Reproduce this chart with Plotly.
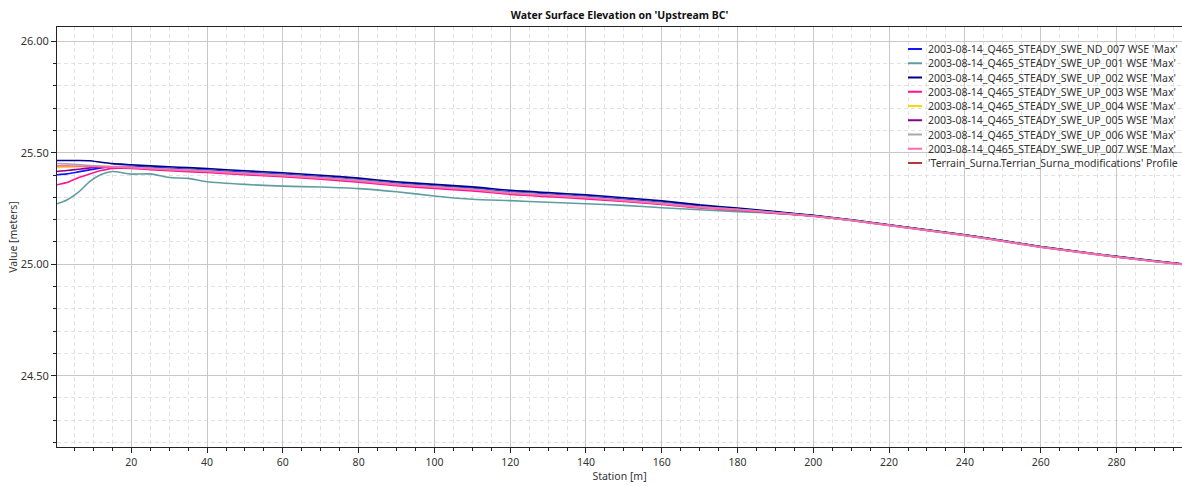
import plotly.graph_objects as go

# Station [m]
stations = [0.4, 3, 6, 9, 12, 15, 20, 25, 30, 35, 40, 50, 60, 70, 80, 90, 100, 110, 120, 130,
            140, 150, 160, 170, 180, 190, 200, 210, 220, 230, 240, 250, 260, 270, 280, 290, 297.3]

wse_nd_007 = [25.401, 25.405, 25.414, 25.423, 25.432, 25.437, 25.439, 25.434, 25.430, 25.426, 25.422,
              25.412, 25.403, 25.392, 25.379, 25.363, 25.351, 25.340, 25.324, 25.314, 25.304, 25.291,
              25.277, 25.260, 25.248, 25.234, 25.218, 25.198, 25.176, 25.153, 25.131, 25.105, 25.078,
              25.056, 25.034, 25.014, 25.001]
wse_up_001 = [25.271, 25.288, 25.322, 25.370, 25.402, 25.416, 25.404, 25.405, 25.389, 25.385, 25.370,
              25.358, 25.350, 25.346, 25.339, 25.325, 25.306, 25.291, 25.285, 25.278, 25.271, 25.264,
              25.253, 25.244, 25.236, 25.228, 25.217, 25.197, 25.176, 25.153, 25.131, 25.105, 25.078,
              25.056, 25.034, 25.014, 25.001]
wse_up_002 = [25.465, 25.465, 25.465, 25.464, 25.457, 25.451, 25.446, 25.441, 25.437, 25.433, 25.429,
              25.419, 25.410, 25.399, 25.386, 25.370, 25.358, 25.347, 25.331, 25.321, 25.311, 25.298,
              25.284, 25.266, 25.252, 25.236, 25.219, 25.199, 25.177, 25.154, 25.132, 25.106, 25.079,
              25.057, 25.035, 25.015, 25.002]
wse_up_003 = [25.356, 25.366, 25.388, 25.405, 25.420, 25.430, 25.430, 25.424, 25.419, 25.415, 25.411,
              25.401, 25.392, 25.381, 25.368, 25.352, 25.340, 25.329, 25.313, 25.303, 25.293, 25.281,
              25.268, 25.252, 25.242, 25.229, 25.215, 25.196, 25.174, 25.151, 25.129, 25.103, 25.076,
              25.054, 25.032, 25.012, 24.999]
wse_up_004 = [25.434, 25.435, 25.437, 25.438, 25.438, 25.437, 25.434, 25.429, 25.425, 25.421, 25.417,
              25.407, 25.398, 25.387, 25.374, 25.358, 25.346, 25.335, 25.319, 25.309, 25.299, 25.286,
              25.272, 25.256, 25.245, 25.231, 25.216, 25.197, 25.175, 25.152, 25.130, 25.104, 25.077,
              25.055, 25.033, 25.013, 25.000]
wse_up_005 = [25.416, 25.420, 25.426, 25.432, 25.436, 25.437, 25.434, 25.429, 25.425, 25.421, 25.417,
              25.407, 25.398, 25.387, 25.374, 25.358, 25.346, 25.335, 25.319, 25.309, 25.299, 25.286,
              25.272, 25.256, 25.245, 25.231, 25.216, 25.197, 25.175, 25.152, 25.130, 25.104, 25.077,
              25.055, 25.033, 25.013, 25.000]
wse_up_006 = [25.452, 25.450, 25.447, 25.443, 25.440, 25.438, 25.436, 25.431, 25.427, 25.423, 25.419,
              25.409, 25.400, 25.389, 25.376, 25.360, 25.348, 25.337, 25.321, 25.311, 25.301, 25.288,
              25.274, 25.257, 25.246, 25.232, 25.216, 25.197, 25.175, 25.152, 25.130, 25.104, 25.077,
              25.055, 25.033, 25.013, 25.000]
wse_up_007 = [25.441, 25.441, 25.440, 25.439, 25.437, 25.436, 25.433, 25.428, 25.424, 25.420, 25.416,
              25.406, 25.397, 25.386, 25.373, 25.357, 25.345, 25.334, 25.318, 25.308, 25.298, 25.285,
              25.271, 25.255, 25.244, 25.230, 25.215, 25.196, 25.174, 25.151, 25.129, 25.103, 25.076,
              25.054, 25.032, 25.012, 24.999]

series_names = [
    "2003-08-14_Q465_STEADY_SWE_ND_007 WSE 'Max'",
    "2003-08-14_Q465_STEADY_SWE_UP_001 WSE 'Max'",
    "2003-08-14_Q465_STEADY_SWE_UP_002 WSE 'Max'",
    "2003-08-14_Q465_STEADY_SWE_UP_003 WSE 'Max'",
    "2003-08-14_Q465_STEADY_SWE_UP_004 WSE 'Max'",
    "2003-08-14_Q465_STEADY_SWE_UP_005 WSE 'Max'",
    "2003-08-14_Q465_STEADY_SWE_UP_006 WSE 'Max'",
    "2003-08-14_Q465_STEADY_SWE_UP_007 WSE 'Max'",
]
series_values = [wse_nd_007, wse_up_001, wse_up_002, wse_up_003,
                 wse_up_004, wse_up_005, wse_up_006, wse_up_007]
series_colors = ["#1414ff", "#5f9ea0", "#00008b", "#ff1493",
                 "#ffd700", "#8b008b", "#a9a9a9", "#ff69b4"]

terrain_name = "'Terrain_Surna.Terrian_Surna_modifications' Profile"
terrain_color = "#b03a3a"

x_tickvals = [20, 40, 60, 80, 100, 120, 140, 160, 180, 200, 220, 240, 260, 280]
y_tickvals = [24.5, 25.0, 25.5, 26.0]

FONT = "Segoe UI, Noto Sans, Open Sans, sans-serif"
W, H = 1182, 486
ML, MR, MT, MB = 57, 0, 27, 39
PW, PH = W - ML - MR, H - MT - MB


def px_to_paper(px, py):
    return (px - ML) / PW, 1 - (py - MT) / PH


fig = go.Figure()
for name, vals, col in zip(series_names, series_values, series_colors):
    fig.add_trace(go.Scatter(x=stations, y=vals, name=name, mode="lines", showlegend=False,
                             line=dict(color=col, width=1.6, shape="spline", smoothing=0.6)))
fig.add_trace(go.Scatter(x=[None], y=[None], name=terrain_name, mode="lines", showlegend=False,
                         line=dict(color=terrain_color, width=1.6)))

# compact legend (matches the original's tight row spacing)
legend_names = series_names + [terrain_name]
legend_colors = series_colors + [terrain_color]
shapes, annotations = [], []
for i, (nm, col) in enumerate(zip(legend_names, legend_colors)):
    row_y = 49 + 14.25 * i
    x0, y0 = px_to_paper(908, row_y)
    x1, _ = px_to_paper(922, row_y)
    xt, _ = px_to_paper(926, row_y)
    shapes.append(dict(type="line", xref="paper", yref="paper", x0=x0, x1=x1, y0=y0, y1=y0,
                       line=dict(color=col, width=2)))
    annotations.append(dict(text=nm, xref="paper", yref="paper", x=xt, y=y0,
                            xanchor="left", yanchor="middle", showarrow=False,
                            font=dict(family=FONT, size=10.5, color="#333333")))

fig.update_layout(
    width=W, height=H,
    margin=dict(l=ML, r=MR, t=MT, b=MB),
    paper_bgcolor="white", plot_bgcolor="white",
    font=dict(family=FONT, size=10.5, color="#333333"),
    title=dict(text="<b>Water Surface Elevation on 'Upstream BC'</b>",
               x=(ML + W) / 2 / W, xanchor="center",
               y=1 - 15 / H, yanchor="middle", yref="container",
               font=dict(family=FONT, size=10.5, color="#111111")),
    showlegend=False,
    shapes=shapes,
    annotations=annotations,
)

fig.update_xaxes(
    range=[0.4, 297.3], tickvals=x_tickvals, ticktext=[str(v) for v in x_tickvals],
    showline=True, linecolor="#222222", linewidth=1, mirror=True,
    ticks="outside", ticklen=5, tickcolor="#222222",
    showgrid=True, gridcolor="#c8c8c8", gridwidth=1,
    minor=dict(dtick=5, tick0=0, ticks="outside", ticklen=3, tickcolor="#222222",
               showgrid=True, gridcolor="#e2e2e2", griddash="4px,3px", gridwidth=1),
    zeroline=False,
    title=dict(text="Station [m]", standoff=4, font=dict(family=FONT, size=10.5, color="#333333")),
    tickfont=dict(family=FONT, size=10.5, color="#333333"),
)
fig.update_yaxes(
    range=[24.18, 26.064], tickvals=y_tickvals, tickformat=".2f",
    showline=True, linecolor="#222222", linewidth=1,
    ticks="outside", ticklen=5, tickcolor="#222222",
    showgrid=True, gridcolor="#c8c8c8", gridwidth=1,
    minor=dict(dtick=0.1, tick0=24.0, ticks="outside", ticklen=3, tickcolor="#222222",
               showgrid=True, gridcolor="#e2e2e2", griddash="4px,3px", gridwidth=1),
    zeroline=False,
    title=dict(text="Value [meters]", standoff=0, font=dict(family=FONT, size=10.5, color="#333333")),
    tickfont=dict(family=FONT, size=11, color="#333333"),
)

fig.write_html("out.html")
